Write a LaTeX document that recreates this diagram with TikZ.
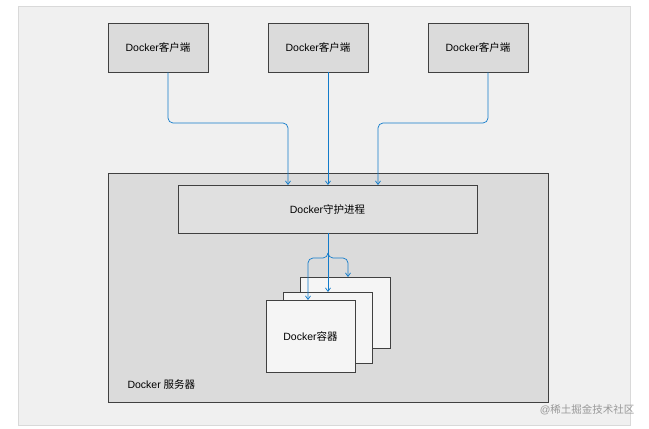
\documentclass[tikz,border=0pt]{standalone}
\usepackage{fontspec}
\setmainfont{Liberation Sans}
\newfontfamily\cjk{Noto Sans CJK SC}
\usetikzlibrary{arrows.meta,calc}
\begin{document}
\begin{tikzpicture}[x=1pt,y=-1pt,
  box/.style={draw=black!75,line width=0.6pt,fill=#1,font=\fontsize{10.5}{12}\selectfont,align=center,inner sep=0pt},
  arr/.style={draw=cyan!60!blue,line width=0.7pt,-{Straight Barb[length=3.5pt,width=5pt]},rounded corners=5pt}]
\useasboundingbox (0,0) rectangle (649,429);
\fill[white] (0,0) rectangle (649,429);
\draw[black!15,fill=black!6] (18,6) rectangle (630,425);
\node[box=black!14,minimum width=100pt,minimum height=49pt] (c1) at (158,47.5) {Docker{\cjk 客户端}};
\node[box=black!14,minimum width=100pt,minimum height=49pt] (c2) at (318,47.5) {Docker{\cjk 客户端}};
\node[box=black!14,minimum width=100pt,minimum height=49pt] (c3) at (478,47.5) {Docker{\cjk 客户端}};
\node[box=black!14,minimum width=440pt,minimum height=229pt] (srv) at (328,287.5) {};
\node[anchor=west,font=\fontsize{10.5}{12}\selectfont] (lbl) at (124,385) {Docker {\cjk 服务器}};
\node[box=black!12,minimum width=299pt,minimum height=48pt] (d) at (327.5,209) {Docker{\cjk 守护进程}};
\node[box=black!4,minimum width=90pt,minimum height=71pt] (k3) at (345,312.5) {};
\node[box=black!4,minimum width=89pt,minimum height=71pt] (k2) at (327.5,327.5) {};
\node[box=black!4,minimum width=89pt,minimum height=72pt] (k1) at (310.5,336) {Docker{\cjk 容器}};
\coordinate (j) at (328,258);
\draw[arr] ($(c1.south)+(10,0)$) -- (168,123) -- (288,123) -- (288,185);
\draw[arr] ($(c2.south)+(10,0)$) -- (328,185);
\draw[arr] ($(c3.south)+(10,0)$) -- (488,123) -- (378,123) -- (378,185);
\draw[draw=cyan!60!blue,line width=0.7pt] (328,233) -- (j);
\draw[arr] (328,253) -- (j) -- (308,258) -- (308,300);
\draw[arr] (j) -- (328,292);
\draw[arr] (328,253) -- (j) -- (348,258) -- (348,277);
\node[anchor=east,font=\fontsize{10.5}{12}\selectfont,text=black!40] (wm) at (638,410) {@{\cjk 稀土掘金技术社区}};
\end{tikzpicture}
\end{document}
